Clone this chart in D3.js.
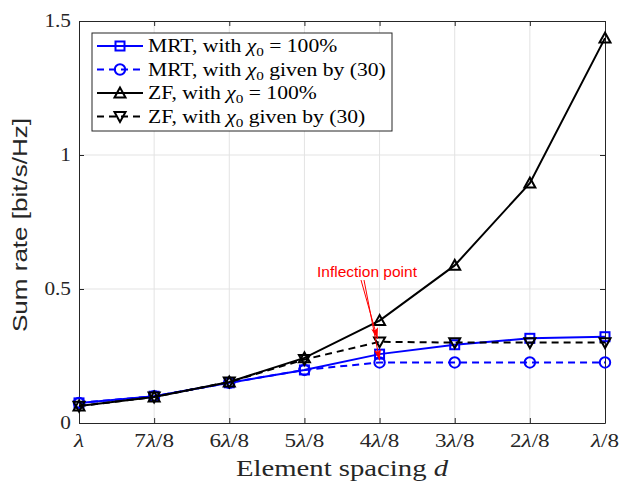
<!DOCTYPE html>
<html><head><meta charset="utf-8">
<script src="https://cdn.jsdelivr.net/npm/d3@7"></script>
<style>body{margin:0;background:#fff}</style>
</head><body>
<svg id="c" width="634" height="485"></svg>
<script>
const categories = ["λ","7λ/8","6λ/8","5λ/8","4λ/8","3λ/8","2λ/8","λ/8"];
const mrtFull = [0.075,0.100,0.150,0.198,0.257,0.292,0.316,0.322];
const mrt30   = [0.075,0.100,0.150,0.198,0.226,0.226,0.226,0.226];
const zfFull  = [0.063,0.097,0.153,0.243,0.382,0.588,0.895,1.436];
const zf30    = [0.063,0.097,0.153,0.237,0.303,0.300,0.300,0.300];
const yTicks = [0,0.5,1,1.5];
const yTickLabels = ["0","0.5","1","1.5"];

const svg = d3.select("#c");
const m = {l:79, r:605, t:21, b:423};
const x = d3.scaleLinear().domain([0,categories.length-1]).range([m.l,m.r]);
const y = d3.scaleLinear().domain([0,1.5]).range([m.b,m.t]);
const serif = "'Liberation Serif', 'DejaVu Serif', serif";
const sans = "'Liberation Sans', Arial, sans-serif";
const sx = 1.22; // horizontal widening to mimic Computer Modern proportions

// grid
const g = svg.append("g");
g.selectAll(".gx").data(d3.range(1,categories.length-1)).enter().append("line")
 .attr("x1",d=>x(d)).attr("x2",d=>x(d)).attr("y1",m.t).attr("y2",m.b)
 .attr("stroke","#e3e3e3").attr("stroke-width",1);
g.selectAll(".gy").data(yTicks.slice(1,-1)).enter().append("line")
 .attr("y1",d=>y(d)).attr("y2",d=>y(d)).attr("x1",m.l).attr("x2",m.r)
 .attr("stroke","#e3e3e3").attr("stroke-width",1);

// axes
const xAxis = d3.axisBottom(x).tickValues(d3.range(categories.length)).tickSizeInner(-5).tickSizeOuter(0).tickFormat("");
const gx = svg.append("g").attr("transform",`translate(0,${m.b})`).call(xAxis);
const xAxisTop = d3.axisTop(x).tickValues(d3.range(categories.length)).tickSizeInner(-5).tickSizeOuter(0).tickFormat("");
const gxt = svg.append("g").attr("transform",`translate(0,${m.t})`).call(xAxisTop);
const yAxis = d3.axisLeft(y).tickValues(yTicks).tickSizeInner(-5).tickSizeOuter(0).tickFormat("");
const gy = svg.append("g").attr("transform",`translate(${m.l},0)`).call(yAxis);
const yAxisR = d3.axisRight(y).tickValues(yTicks).tickSizeInner(-5).tickSizeOuter(0).tickFormat("");
const gyr = svg.append("g").attr("transform",`translate(${m.r},0)`).call(yAxisR);
[gx,gxt,gy,gyr].forEach(a=>{a.selectAll("path,line").attr("stroke","#262626").attr("stroke-width",1);});

// x tick labels
categories.forEach((c,i)=>{
  const t = svg.append("text").attr("transform",`translate(${x(i)},447) scale(${sx},1)`).attr("text-anchor","middle")
    .attr("font-family",serif).attr("font-size",19).attr("fill","#262626");
  const parts = c.split("λ");
  if(parts[0]) t.append("tspan").text(parts[0]);
  t.append("tspan").attr("font-style","italic").text("λ");
  if(parts[1]) t.append("tspan").text(parts[1]);
});
// y tick labels
yTicks.forEach((v,i)=>{
  svg.append("text").attr("transform",`translate(71,${y(v)+6}) scale(1.12,1)`).attr("text-anchor","end")
   .attr("font-family",serif).attr("font-size",19).attr("fill","#262626").text(yTickLabels[i]);
});
// axis titles
const xt = svg.append("text").attr("transform",`translate(342,476) scale(1.25,1)`).attr("text-anchor","middle")
  .attr("font-family",serif).attr("font-size",23).attr("fill","#262626");
xt.append("tspan").text("Element spacing ");
xt.append("tspan").attr("font-style","italic").text("d");
svg.append("text").attr("transform","translate(27,225) rotate(-90)").attr("text-anchor","middle")
  .attr("font-family",sans).attr("font-size",20.5).attr("textLength",214).attr("lengthAdjust","spacingAndGlyphs")
  .attr("fill","#262626").text("Sum rate [bit/s/Hz]");

// series
const series = [
  {vals:mrtFull,color:"#0000ff",dash:null,marker:"square",label:["MRT, with ","= 100%"]},
  {vals:mrt30,color:"#0000ff",dash:"7,5",marker:"circle",label:["MRT, with ","given by (30)"]},
  {vals:zfFull,color:"#000000",dash:null,marker:"up",label:["ZF, with ","= 100%"]},
  {vals:zf30,color:"#000000",dash:"7,5",marker:"down",label:["ZF, with ","given by (30)"]}
];
const line = d3.line().x((d,i)=>x(i)).y(d=>y(d));
function marker(sel,type,cx,cy,color){
  if(type==="square") sel.append("rect").attr("x",cx-4.5).attr("y",cy-4.5).attr("width",9).attr("height",9)
    .attr("fill","none").attr("stroke",color).attr("stroke-width",2);
  else if(type==="circle") sel.append("circle").attr("cx",cx).attr("cy",cy).attr("r",5.2)
    .attr("fill","none").attr("stroke",color).attr("stroke-width",2);
  else {
    const s = type==="up"?1:-1, h=5.5;
    const pts = [[cx,cy-s*h],[cx-h,cy+s*h*0.8],[cx+h,cy+s*h*0.8]];
    sel.append("polygon").attr("points",pts.map(p=>p.join(",")).join(" "))
      .attr("fill","none").attr("stroke",color).attr("stroke-width",2);
  }
}
series.forEach(s=>{
  svg.append("path").datum(s.vals).attr("d",line).attr("fill","none")
    .attr("stroke",s.color).attr("stroke-width",2).attr("stroke-dasharray",s.dash);
  const mg = svg.append("g");
  s.vals.forEach((v,i)=>marker(mg,s.marker,x(i),y(v),s.color));
});

// annotation
const red = "#ff0000";
svg.append("defs").append("marker").attr("id","ah").attr("viewBox","0 0 10 10").attr("refX",10).attr("refY",5)
  .attr("markerWidth",11).attr("markerHeight",7).attr("orient","auto").attr("markerUnits","userSpaceOnUse")
  .attr("preserveAspectRatio","none")
  .append("path").attr("d","M0,0 L10,5 L0,10 L2,5 z").attr("fill",red);
svg.append("text").attr("x",367).attr("y",277).attr("text-anchor","middle").attr("font-family",sans)
  .attr("font-size",15.5).attr("fill",red).text("Inflection point");
svg.append("line").attr("x1",361).attr("y1",280).attr("x2",x(4)-2).attr("y2",y(zf30[4])-3)
  .attr("stroke",red).attr("stroke-width",1).attr("marker-end","url(#ah)");
svg.append("line").attr("x1",364).attr("y1",280).attr("x2",x(4)).attr("y2",y(mrt30[4])-2)
  .attr("stroke",red).attr("stroke-width",1).attr("marker-end","url(#ah)");

// legend
const lg = svg.append("g");
lg.append("rect").attr("x",92).attr("y",33).attr("width",300).attr("height",98)
  .attr("fill","#fff").attr("stroke","#262626").attr("stroke-width",1);
series.forEach((s,i)=>{
  const yy = 46 + i*23.5;
  lg.append("line").attr("x1",97).attr("x2",143).attr("y1",yy).attr("y2",yy)
    .attr("stroke",s.color).attr("stroke-width",2).attr("stroke-dasharray",s.dash);
  marker(lg,s.marker,120,yy,s.color);
  const t = lg.append("text").attr("transform",`translate(148,${yy+6}) scale(1.17,1)`).attr("font-family",serif)
    .attr("font-size",18.5).attr("fill","#000");
  t.append("tspan").text(s.label[0]);
  t.append("tspan").attr("font-style","italic").text("χ");
  t.append("tspan").attr("font-size",13).attr("dy",4).text("0");
  t.append("tspan").attr("dy",-4).text(" " + s.label[1]);
});
</script>
</body></html>
